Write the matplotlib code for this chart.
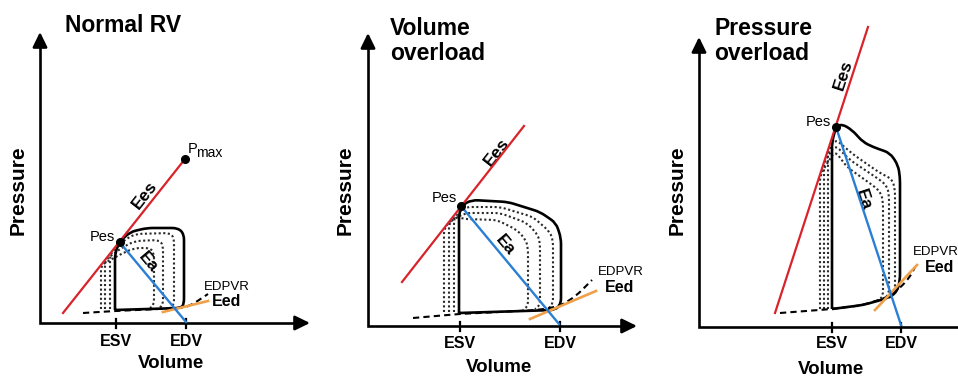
import matplotlib
matplotlib.use('Agg')
import matplotlib.pyplot as plt
from matplotlib.path import Path
from matplotlib.patches import PathPatch
import numpy as np

plt.rcParams['font.family'] = ['Liberation Sans', 'DejaVu Sans']

# ---------------- data (volume v, pressure p; origin = axes corner) ----------------
titles = ["Normal RV", "Volume\noverload", "Pressure\noverload"]
tick_labels = ["ESV", "EDV"]

# Panel 1 : Normal RV
n_esv, n_edv = 76, 146
n_ees_v, n_ees_p = [23, 145], [10, 164]
n_pes = (79.5, 81)
n_ea_v, n_ea_p = [79.5, 146], [81, 1]
n_pmax = (145, 164)
n_loop_v = [75, 75, 79.5, 90, 107, 138, 144, 144, 141, 75]
n_loop_p = [13, 70, 81, 91, 95, 95, 89, 19, 15, 13]
n_dot1_v = [70, 70, 83, 95, 130, 134, 134, 130]
n_dot1_p = [14, 69, 82, 89, 90, 85, 18, 15]
n_dot2_v = [65, 65, 83, 95, 119, 123, 123, 119]
n_dot2_p = [14, 63, 76, 82, 83, 78, 18, 15]
n_dot3_v = [61, 61, 83, 95, 110, 114, 114, 110]
n_dot3_p = [14, 58, 70, 75, 75, 70, 18, 15]
n_edpvr_v = [43, 75, 140, 150, 168]
n_edpvr_p = [10, 12, 15, 17, 29]
n_eed_v, n_eed_p = [123, 168], [11, 22]

# Panel 2 : Volume overload
v_esv, v_edv = 92, 192
v_ees_v, v_ees_p = [34, 156], [44, 200]
v_pes = (93, 120)
v_ea_v, v_ea_p = [93, 191], [120, 2]
v_loop_v = [91, 91, 94, 104, 140, 172, 188, 193, 193, 187, 91]
v_loop_p = [13, 112, 121, 126, 124, 114, 103, 88, 22, 16, 13]
v_dot1_v = [76, 76, 97, 132, 165, 182, 185, 185, 180]
v_dot1_p = [14, 98, 119, 119, 109, 94, 85, 22, 17]
v_dot2_v = [81, 81, 97, 132, 159, 170, 172, 172, 167]
v_dot2_p = [14, 104, 113, 113, 103, 91, 82, 21, 17]
v_dot3_v = [86, 86, 96, 129, 149, 158, 160, 160, 155]
v_dot3_p = [14, 110, 107, 106, 96, 86, 77, 20, 16]
v_edpvr_v = [45, 91, 170, 192, 208, 224]
v_edpvr_p = [8, 12, 16, 20, 30, 46]
v_eed_v, v_eed_p = [162, 228], [7, 35]

# Panel 3 : Pressure overload
p_esv, p_edv = 133, 202
p_ees_v, p_ees_p = [76, 169], [14, 300]
p_pes = (137, 200)
p_ea_v, p_ea_p = [137, 202], [200, 2]
p_loop_v = [133, 133, 137, 143, 153, 164, 174, 191, 199, 201, 201, 198, 189, 164, 133]
p_loop_p = [18, 185, 200, 203, 197, 185, 180, 174, 162, 150, 47, 35, 29, 22, 18]
p_dot1_v = [129, 129, 136, 155, 181, 193, 196, 196, 190]
p_dot1_p = [18, 176, 188, 172, 154, 148, 138, 35, 29]
p_dot2_v = [125, 125, 136, 151, 181, 188, 190, 190, 185]
p_dot2_p = [18, 164, 182, 167, 147, 141, 132, 33, 28]
p_dot3_v = [121, 121, 136, 148, 176, 182, 184, 184, 180]
p_dot3_p = [18, 152, 176, 160, 140, 134, 125, 31, 27]
p_edpvr_v = [81, 133, 164, 189, 200, 211, 216]
p_edpvr_p = [14, 18, 22, 30, 38, 50, 60]
p_eed_v, p_eed_p = [176, 218], [17, 62]

# ---------------- layout (pixels) ----------------
W, H = 958, 376
RED, BLUE, ORANGE = '#d9232b', '#2a7fd4', '#f0a048'

panels = [
    dict(box=(0, 320), origin=(40, 323), top=291, right=270,
         esv=n_esv, edv=n_edv, ees=(n_ees_v, n_ees_p), pes=n_pes, ea=(n_ea_v, n_ea_p),
         loop=(n_loop_v, n_loop_p),
         dots=[(n_dot1_v, n_dot1_p), (n_dot2_v, n_dot2_p), (n_dot3_v, n_dot3_p)],
         edpvr=(n_edpvr_v, n_edpvr_p), eed=(n_eed_v, n_eed_p),
         title_xy=(25, 298), ylab_xy=(-22, 133), xlab_xy=(131, -41), tick_p=-18,
         pes_lab=(62.5, 86), ees_lab=(105, 128, 52), ea_lab=(108, 61, -50),
         edpvr_lab=(164, 36), eed_lab=(172, 21)),
    dict(box=(320, 640), origin=(368, 326), top=293, right=269,
         esv=v_esv, edv=v_edv, ees=(v_ees_v, v_ees_p), pes=v_pes, ea=(v_ea_v, v_ea_p),
         loop=(v_loop_v, v_loop_p),
         dots=[(v_dot1_v, v_dot1_p), (v_dot2_v, v_dot2_p), (v_dot3_v, v_dot3_p)],
         edpvr=(v_edpvr_v, v_edpvr_p), eed=(v_eed_v, v_eed_p),
         title_xy=(22, 285), ylab_xy=(-23, 136), xlab_xy=(131, -41), tick_p=-18,
         pes_lab=(76.5, 128.5), ees_lab=(129, 174, 52), ea_lab=(137, 81, -50),
         edpvr_lab=(230, 54), eed_lab=(237, 38)),
    dict(box=(640, 958), origin=(699, 327), top=290, right=285,
         esv=p_esv, edv=p_edv, ees=(p_ees_v, p_ees_p), pes=p_pes, ea=(p_ea_v, p_ea_p),
         loop=(p_loop_v, p_loop_p),
         dots=[(p_dot1_v, p_dot1_p), (p_dot2_v, p_dot2_p), (p_dot3_v, p_dot3_p)],
         edpvr=(p_edpvr_v, p_edpvr_p), eed=(p_eed_v, p_eed_p),
         title_xy=(15, 286), ylab_xy=(-22, 137), xlab_xy=(132, -42), tick_p=-17,
         pes_lab=(119, 205), ees_lab=(144, 252, 72), ea_lab=(164, 127, -72),
         edpvr_lab=(214, 75), eed_lab=(226, 60)),
]


def rounded(vs, ps, r):
    pts = np.column_stack([vs, ps]).astype(float)
    verts = [pts[0]]
    codes = [Path.MOVETO]
    for i in range(1, len(pts) - 1):
        p0, p1, p2 = pts[i - 1], pts[i], pts[i + 1]
        d1 = np.hypot(*(p0 - p1))
        d2 = np.hypot(*(p2 - p1))
        r1 = min(r, d1 / 2)
        r2 = min(r, d2 / 2)
        a = p1 + (p0 - p1) * r1 / d1
        b = p1 + (p2 - p1) * r2 / d2
        verts += [a, p1, b]
        codes += [Path.LINETO, Path.CURVE3, Path.CURVE3]
    verts.append(pts[-1])
    codes.append(Path.LINETO)
    return Path(verts, codes)


fig = plt.figure(figsize=(W / 100, H / 100), dpi=100)

for d, title in zip(panels, titles):
    xl, xr = d['box']
    x0, y0 = d['origin']
    ax = fig.add_axes([xl / W, 0, (xr - xl) / W, 1])
    ax.set_xlim(xl - x0, xr - x0)
    ax.set_ylim(y0 - H, y0)
    ax.axis('off')

    # axes with arrows
    ax.plot([0, 0, d['right'] - 8], [d['top'] - 8, 0, 0], color='k', lw=1.9,
            solid_joinstyle='miter', clip_on=False, zorder=3)
    for tip, tail in [((0, d['top']), (0, d['top'] - 10)),
                      ((d['right'], 0), (d['right'] - 10, 0))]:
        ax.annotate('', xy=tip, xytext=tail, annotation_clip=False,
                    arrowprops=dict(arrowstyle='-|>,head_length=0.45,head_width=0.22',
                                    mutation_scale=20, lw=1.9, color='k',
                                    shrinkA=0, shrinkB=0))
    for xv, lab in zip([d['esv'], d['edv']], tick_labels):
        ax.plot([xv, xv], [-5, 4], color='k', lw=1.6, clip_on=False)
        ax.text(xv, d['tick_p'], lab, ha='center', va='center', fontsize=11.5,
                fontweight='bold')

    # dotted loops
    for dv, dp in d['dots']:
        ax.add_patch(PathPatch(rounded(dv, dp, 6), fill=False, ec='#2a2a2a', lw=1.5,
                               ls=(0, (1, 1.2)), clip_on=False, zorder=1))
    # EDPVR
    ax.add_patch(PathPatch(rounded(*d['edpvr'], 8), fill=False, ec='k', lw=1.5,
                           ls=(0, (3, 2)), clip_on=False, zorder=2))
    # main loop
    ax.add_patch(PathPatch(rounded(*d['loop'], 6), fill=False, ec='k', lw=1.9,
                           clip_on=False, zorder=3, joinstyle='round'))
    # Eed, Ees, Ea
    ax.plot(*d['eed'], color=ORANGE, lw=1.9, clip_on=False, zorder=4)
    ax.plot(*d['ees'], color=RED, lw=1.6, clip_on=False, zorder=5)
    ax.plot(*d['ea'], color=BLUE, lw=1.7, clip_on=False, zorder=6)
    ax.plot(*d['pes'], 'o', color='k', ms=5.5, clip_on=False, zorder=7)

    # texts
    ax.text(*d['title_xy'], title, ha='left', va='center', fontsize=16.5,
            fontweight='bold', linespacing=1.15)
    ax.text(*d['ylab_xy'], 'Pressure', rotation=90, ha='center', va='center',
            fontsize=15, fontweight='bold')
    ax.text(*d['xlab_xy'], 'Volume', ha='center', va='center', fontsize=13.5,
            fontweight='bold')
    ax.text(*d['pes_lab'], 'Pes', ha='center', va='center', fontsize=10.5)
    ev, ep, er = d['ees_lab']
    ax.text(ev, ep, 'Ees', rotation=er, ha='center', va='center', fontsize=12.5,
            fontweight='bold', rotation_mode='anchor')
    av, ap, ar = d['ea_lab']
    ax.text(av, ap, 'Ea', rotation=ar, ha='center', va='center', fontsize=12.5,
            fontweight='bold', rotation_mode='anchor')
    ax.text(*d['edpvr_lab'], 'EDPVR', ha='left', va='center', fontsize=9.5)
    ax.text(*d['eed_lab'], 'Eed', ha='left', va='center', fontsize=11.5,
            fontweight='bold')

    if title == "Normal RV":
        ax.plot(*n_pmax, 'o', color='k', ms=5.5, clip_on=False, zorder=7)
        ax.text(n_pmax[0] + 3, n_pmax[1] + 10, 'P', ha='left', va='center', fontsize=10.5)
        ax.text(n_pmax[0] + 11, n_pmax[1] + 6, 'max', ha='left', va='center', fontsize=10)

fig.savefig('out.png', dpi=100)
